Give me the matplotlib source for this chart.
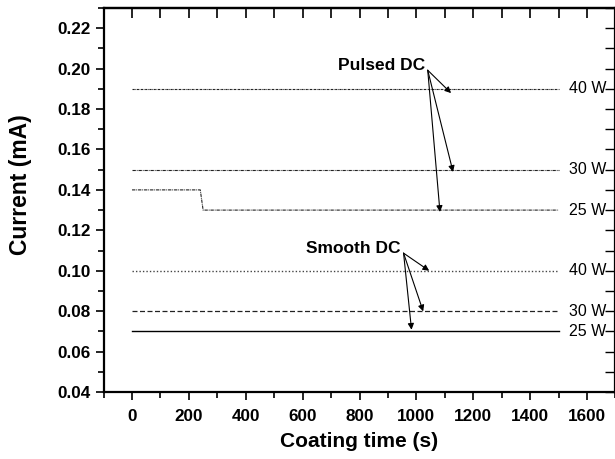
import matplotlib
matplotlib.use("Agg")
import matplotlib.pyplot as plt
from matplotlib.ticker import MultipleLocator

plt.rcParams['font.family'] = ['Liberation Sans', 'DejaVu Sans']

# Data
time_full = [0, 1500]
pulsed_40 = [0.19, 0.19]
pulsed_30 = [0.15, 0.15]
pulsed_25_t = [0, 240, 250, 1500]
pulsed_25 = [0.14, 0.14, 0.13, 0.13]
smooth_40 = [0.10, 0.10]
smooth_30 = [0.08, 0.08]
smooth_25 = [0.07, 0.07]

power_labels = ["40 W", "30 W", "25 W", "40 W", "30 W", "25 W"]
label_y = [0.19, 0.15, 0.13, 0.10, 0.08, 0.07]

pulsed_text = "Pulsed DC"
pulsed_origin = (1040, 0.1992)
pulsed_targets = [(1122, 0.1879), (1129, 0.1489), (1083, 0.1291)]
smooth_text = "Smooth DC"
smooth_origin = (955, 0.1087)
smooth_targets = [(1045, 0.1000), (1024, 0.0799), (983, 0.0708)]

fig = plt.figure(figsize=(6.15, 4.59), dpi=100)
ax = fig.add_axes([103.6/615, 1-392/459, 511.8/615, 384/459])

c = '#222222'
ax.plot(time_full, pulsed_40, color=c, lw=0.8, ls=(0, (2, 0.6, 0.6, 0.6)))
ax.plot(time_full, pulsed_30, color=c, lw=0.8, ls=(0, (3, 0.8, 0.8, 0.8)))
ax.plot(pulsed_25_t, pulsed_25, color=c, lw=0.8, ls=(0, (3, 0.8, 0.8, 0.8)))
ax.plot(time_full, smooth_40, color='#444444', lw=1.0, ls=(0, (1, 1.5)))
ax.plot(time_full, smooth_30, color=c, lw=0.9, ls=(0, (4, 2)))
ax.plot(time_full, smooth_25, color='black', lw=1.0, ls='-')

for lab, yv in zip(power_labels, label_y):
    ax.text(1667, yv, lab, ha='right', va='center', fontsize=11.5, color='black')

ax.text(pulsed_origin[0] - 10, pulsed_origin[1], pulsed_text, ha='right', va='baseline',
        fontsize=12.5, fontweight='bold')
for t in pulsed_targets:
    ax.annotate('', xy=t, xytext=pulsed_origin,
                arrowprops=dict(arrowstyle='-|>', color='black', lw=0.8,
                                mutation_scale=9, shrinkA=0, shrinkB=0))
ax.text(smooth_origin[0] - 10, smooth_origin[1], smooth_text, ha='right', va='baseline',
        fontsize=12.5, fontweight='bold')
for t in smooth_targets:
    ax.annotate('', xy=t, xytext=smooth_origin,
                arrowprops=dict(arrowstyle='-|>', color='black', lw=0.8,
                                mutation_scale=9, shrinkA=0, shrinkB=0))

ax.set_xlim(-100, 1700)
ax.set_ylim(0.04, 0.23)
ax.xaxis.set_minor_locator(MultipleLocator(100))
ax.yaxis.set_minor_locator(MultipleLocator(0.01))
ax.set_xticks(range(0, 1601, 200))
ax.set_yticks([0.04, 0.06, 0.08, 0.10, 0.12, 0.14, 0.16, 0.18, 0.20, 0.22])
ax.set_yticklabels(["0.04", "0.06", "0.08", "0.10", "0.12", "0.14", "0.16", "0.18", "0.20", "0.22"])

for s in ax.spines.values():
    s.set_linewidth(1.6)

ax.tick_params(axis='both', which='major', direction='out', length=6, width=1.2,
               labelsize=12.3, pad=3)
ax.tick_params(axis='both', which='minor', direction='out', length=4, width=1.2)
ax.tick_params(axis='x', which='major', pad=6)
for lab in ax.get_xticklabels() + ax.get_yticklabels():
    lab.set_fontweight('bold')

# top ticks (inward) and right ticks (inward)
axt = ax.secondary_xaxis('top')
axt.xaxis.set_major_locator(MultipleLocator(100))
axt.tick_params(direction='in', length=7, width=1.2, labeltop=False)
axt.spines['top'].set_linewidth(1.6)
axr = ax.secondary_yaxis('right')
axr.yaxis.set_major_locator(MultipleLocator(0.01))
axr.tick_params(direction='in', length=7, width=1.0, labelright=False)

ax.set_xlabel("Coating time (s)", fontsize=15, fontweight='bold', labelpad=6)
ax.set_ylabel("Current (mA)", fontsize=16.5, fontweight='bold')
ax.yaxis.set_label_coords(-0.140, 0.539)

fig.savefig("out.png", dpi=100)
